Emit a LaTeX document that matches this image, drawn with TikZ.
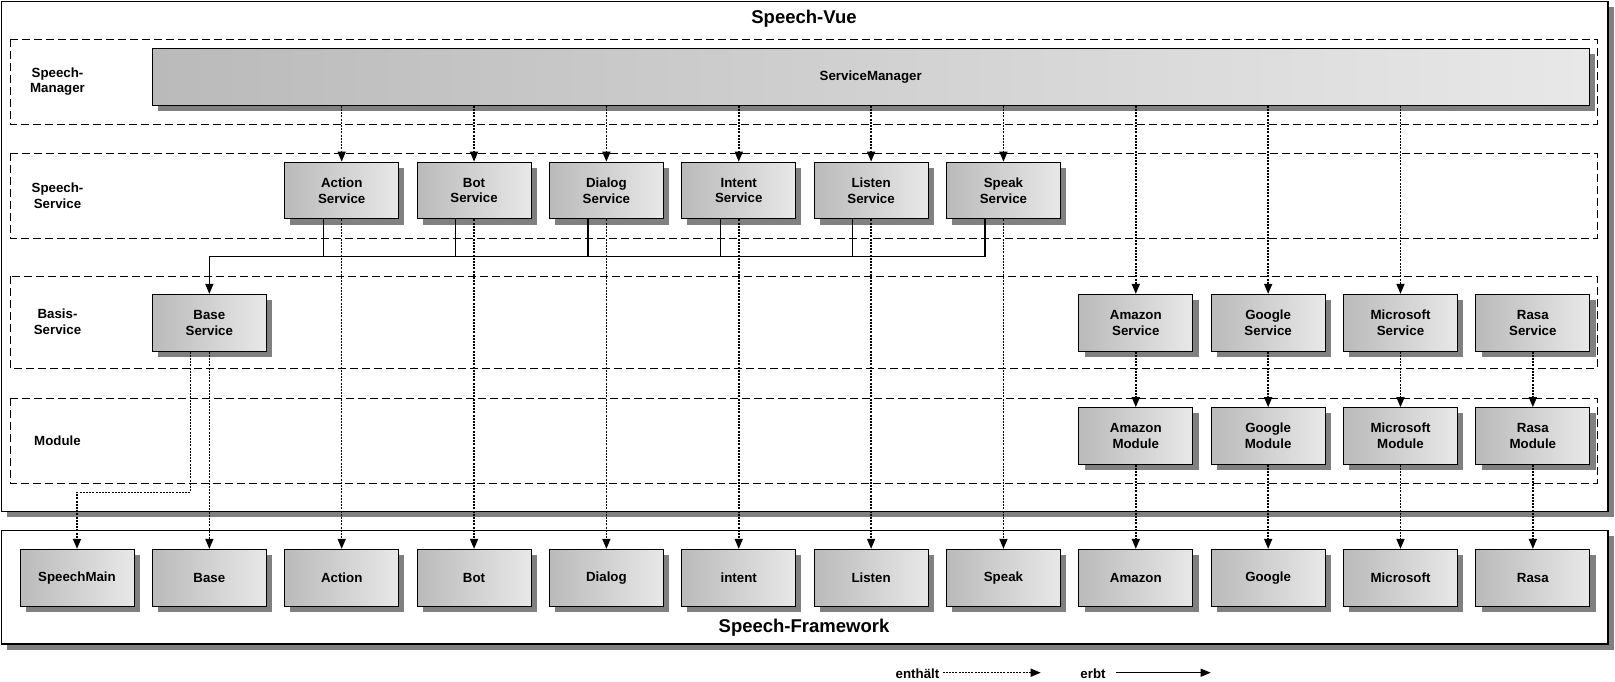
\documentclass[tikz,border=0pt]{standalone}
\usepackage{fontspec}
\setmainfont{Liberation Sans}
\usepackage{tikz}
\usetikzlibrary{arrows.meta,shadows}
\definecolor{boxleft}{RGB}{186,186,186}
\definecolor{boxright}{RGB}{232,232,232}
\definecolor{shadowgray}{RGB}{128,128,128}
\tikzset{
  unitbox/.style={draw, line width=1pt, left color=boxleft, right color=boxright,
    minimum width=114pt, minimum height=56.7pt, inner sep=0pt, align=center,
    font=\fontsize{13.3}{15.7}\selectfont\bfseries,
    drop shadow={shadow xshift=5.7pt, shadow yshift=-5.7pt, fill=shadowgray, opacity=1}},
  frame/.style={draw, line width=1.4pt, fill=white,
    drop shadow={shadow xshift=5.5pt, shadow yshift=-5.5pt, fill=shadowgray, opacity=1}},
  layer/.style={draw, line width=0.9pt, dash pattern=on 8pt off 4pt},
  rowlabel/.style={align=center, font=\fontsize{13.3}{15.7}\selectfont\bfseries},
  titletext/.style={font=\fontsize{18.5}{22}\selectfont\bfseries},
  legendtext/.style={inner sep=3pt, font=\fontsize{13.3}{15.7}\selectfont\bfseries},
  enthaelt/.style={line width=1.5pt, dash pattern=on 2pt off 1.2pt,
    -{Triangle[length=10pt,width=8pt]}},
  erbt/.style={line width=1.2pt, -{Triangle[length=10pt,width=8pt]}},
}
\begin{document}
\begin{tikzpicture}[x=1pt,y=-1pt]
  \useasboundingbox (0,0) rectangle (1615,681);
  % frames
  \draw[frame] (1.5,1.5) rectangle (1608,511.7);
  \draw[frame] (1.5,530.7) rectangle (1608,644);
  \node[titletext] (vue) at (804,19) {Speech-Vue};
  \node[titletext] (framework) at (804,627.7) {Speech-Framework};
  % layers
  \draw[layer] (10,39) rectangle (1597,124);
  \draw[layer] (10,153) rectangle (1597,238);
  \draw[layer] (10,276) rectangle (1597,368);
  \draw[layer] (10,398) rectangle (1597,483);
  \node[rowlabel] (lmanager) at (57.5,81.5) {Speech-\\Manager};
  \node[rowlabel] (lservice) at (57.5,195.5) {Speech-\\Service};
  \node[rowlabel] (lbasis) at (57.5,322) {Basis-\\Service};
  \node[rowlabel] (lmodule) at (57.5,440.5) {Module};
  % boxes
  \node[unitbox, minimum width=1436.7pt] (sm) at (870.7,77) {ServiceManager};
  \foreach \n [count=\i from 2] in {Action,Bot,Dialog,Intent,Listen,Speak}
    \node[unitbox] (svc\i) at (77+132.35*\i,190.5) {\n\\Service};
  \node[unitbox] (bs) at (209.35,322.7) {Base\\Service};
  \foreach \n [count=\i from 8] in {Amazon,Google,Microsoft,Rasa} {
    \node[unitbox] (svc\i) at (77+132.35*\i,322.7) {\n\\Service};
    \node[unitbox] (mod\i) at (77+132.35*\i,436) {\n\\Module};
  }
  \foreach \n [count=\i from 0] in {SpeechMain,Base,Action,Bot,Dialog,intent,Listen,Speak,Amazon,Google,Microsoft,Rasa}
    \node[unitbox] (fw\i) at (77+132.35*\i,577.7) {\n};
  % enthaelt
  \foreach \i in {2,...,10}
    \draw[enthaelt] (sm.south -| svc\i.north) -- (svc\i.north);
  \foreach \i in {2,...,7}
    \draw[enthaelt] (svc\i.south) -- (fw\i.north);
  \foreach \i in {8,...,11} {
    \draw[enthaelt] (svc\i.south) -- (mod\i.north);
    \draw[enthaelt] (mod\i.south) -- (fw\i.north);
  }
  \coordinate (bend) at (0,492.3);
  \draw[enthaelt] (bs.south) -- (fw1.north);
  \draw[enthaelt] ([xshift=-19pt]bs.south) |- (fw0.north |- bend) -- (fw0.north);
  % erbt
  \coordinate (bus) at (0,256.7);
  \foreach \i in {2,...,6}
    \draw[line width=1.2pt] ([xshift=-18.5pt]svc\i.south) -- ([xshift=-18.5pt]svc\i.south |- bus);
  \draw[erbt] ([xshift=-18.5pt]svc7.south) |- (bs.north |- bus) -- (bs.north);
  % legend
  \node[legendtext] (lenthaelt) at (917.5,673.7) {enthält};
  \coordinate (lenthaeltend) at (1040.7,672.7);
  \draw[enthaelt] (lenthaelt.east |- lenthaeltend) -- (lenthaeltend);
  \node[legendtext] (lerbt) at (1093,673.7) {erbt};
  \coordinate (lerbtend) at (1210.7,672.7);
  \draw[erbt] ([xshift=7pt]lerbt.east |- lerbtend) -- (lerbtend);
\end{tikzpicture}
\end{document}
